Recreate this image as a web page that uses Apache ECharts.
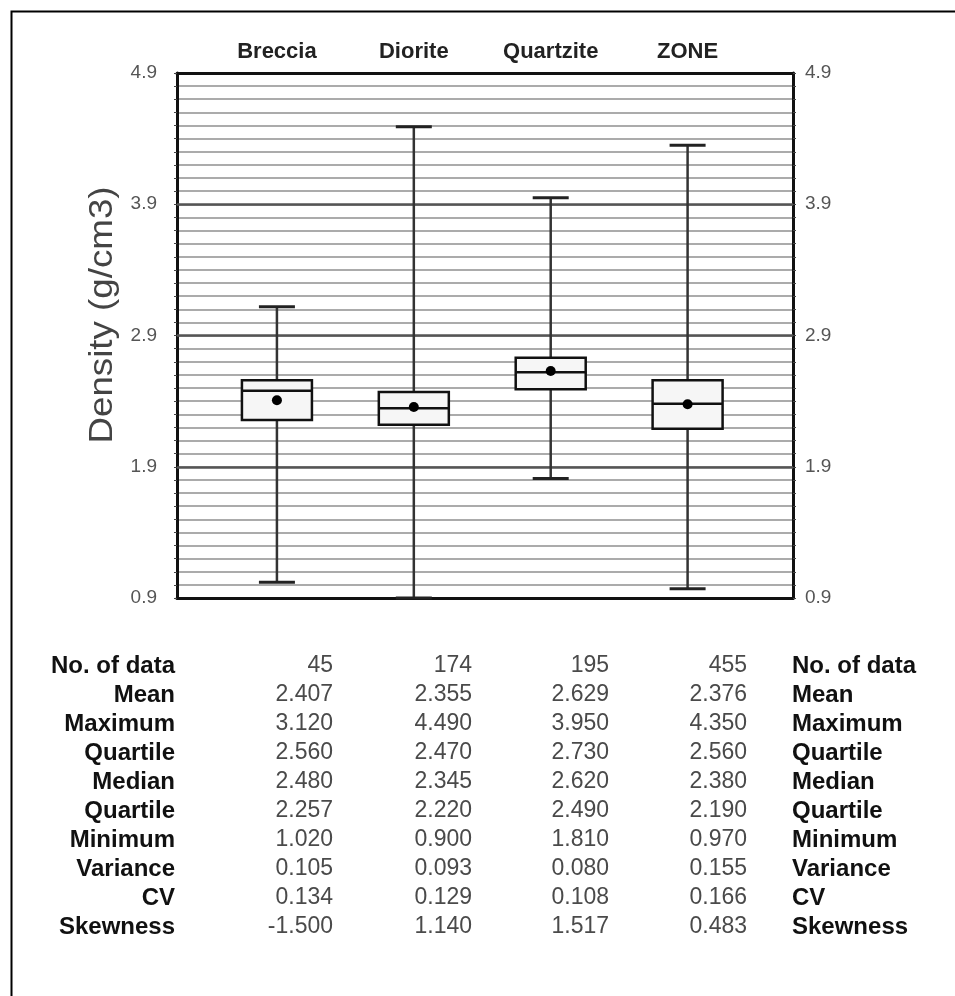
<!DOCTYPE html>
<html>
<head>
<meta charset="utf-8">
<script src="https://cdn.jsdelivr.net/npm/echarts@6/dist/echarts.min.js"></script>
<style>
html,body{margin:0;padding:0;background:#fff;}
#chart{width:955px;height:996px;}
</style>
</head>
<body>
<div id="chart"></div>
<script>
// ---- Data ----
const categories = ['Breccia', 'Diorite', 'Quartzite', 'ZONE'];
const nData    = [45, 174, 195, 455];
const meanV    = [2.407, 2.355, 2.629, 2.376];
const maxV     = [3.120, 4.490, 3.950, 4.350];
const q3V      = [2.560, 2.470, 2.730, 2.560];
const medianV  = [2.480, 2.345, 2.620, 2.380];
const q1V      = [2.257, 2.220, 2.490, 2.190];
const minV     = [1.020, 0.900, 1.810, 0.970];
const varianceV= [0.105, 0.093, 0.080, 0.155];
const cvV      = [0.134, 0.129, 0.108, 0.166];
const skewV    = [-1.500, 1.140, 1.517, 0.483];
const yTickLabels = [0.9, 1.9, 2.9, 3.9, 4.9];
const majorGrid = [1.9, 2.9, 3.9];
const rowLabels = ['No. of data','Mean','Maximum','Quartile','Median','Quartile','Minimum','Variance','CV','Skewness'];

// ---- Build ----
const boxData = categories.map((c, i) => [i + 1, minV[i], q1V[i], medianV[i], q3V[i], maxV[i], meanV[i]]);
const tableRows = [
  nData.map(v => String(v)),
  meanV.map(v => v.toFixed(3)),
  maxV.map(v => v.toFixed(3)),
  q3V.map(v => v.toFixed(3)),
  medianV.map(v => v.toFixed(3)),
  q1V.map(v => v.toFixed(3)),
  minV.map(v => v.toFixed(3)),
  varianceV.map(v => v.toFixed(3)),
  cvV.map(v => v.toFixed(3)),
  skewV.map(v => v.toFixed(3))
];

const chart = echarts.init(document.getElementById('chart'), null, {renderer: 'canvas'});

const graphics = [];
graphics.push({
  type: 'rect', left: 9, top: 9, z: 100,
  shape: {x: 0, y: 0, width: 1000, height: 1000},
  style: {fill: 'none', stroke: '#000', lineWidth: 2}
});
graphics.push({
  type: 'text', x: 103, y: 315, rotation: Math.PI / 2,
  scaleX: 1.08,
  style: {
    text: 'Density (g/cm3)', textAlign: 'center', textVerticalAlign: 'middle',
    font: '34px "Liberation Sans", Arial, sans-serif', fill: '#444'
  }
});
const colRight = [333, 472, 609, 747];
const rowY0 = 666, rowStep = 29;
rowLabels.forEach((lab, r) => {
  const y = rowY0 + r * rowStep;
  graphics.push({type: 'text', x: 175, y: y, style: {text: lab, textAlign: 'right', textVerticalAlign: 'middle', font: 'bold 24px "Liberation Sans", Arial, sans-serif', fill: '#111'}});
  graphics.push({type: 'text', x: 792, y: y, style: {text: lab, textAlign: 'left', textVerticalAlign: 'middle', font: 'bold 24px "Liberation Sans", Arial, sans-serif', fill: '#111'}});
  tableRows[r].forEach((val, c) => {
    graphics.push({type: 'text', x: colRight[c], y: y, style: {text: val, textAlign: 'right', textVerticalAlign: 'middle', font: '23px "Liberation Sans", Arial, sans-serif', fill: '#4a4a4a'}});
  });
});

const yAxisCommon = {
  type: 'value', min: 0.9, max: 4.9, interval: 0.1,
  axisLine: {show: true, lineStyle: {color: '#111', width: 3}},
  axisTick: {show: true, length: 3, lineStyle: {color: '#444', width: 1}},
  axisLabel: {
    color: '#555', fontSize: 19, fontFamily: '"Liberation Sans", Arial, sans-serif',
    formatter: v => yTickLabels.some(t => Math.abs(t - v) < 1e-6) ? v.toFixed(1) : ''
  }
};

const option = {
  animation: false,
  backgroundColor: '#fff',
  grid: {left: 177, right: 162, top: 73, bottom: 398, containLabel: false},
  xAxis: [
    {type: 'value', min: 0.27, max: 4.77, position: 'bottom',
     axisLine: {show: true, onZero: false, lineStyle: {color: '#111', width: 3}},
     axisTick: {show: false}, axisLabel: {show: false}, splitLine: {show: false}},
    {type: 'value', min: 0.27, max: 4.77, position: 'top',
     axisLine: {show: true, onZero: false, lineStyle: {color: '#111', width: 3}},
     axisTick: {show: false}, axisLabel: {show: false}, splitLine: {show: false}}
  ],
  yAxis: [
    Object.assign({}, yAxisCommon, {position: 'left', axisLabel: Object.assign({}, yAxisCommon.axisLabel, {margin: 20}),
      splitLine: {show: true, lineStyle: {color: '#ababab', width: 1.8}}}),
    Object.assign({}, yAxisCommon, {position: 'right', axisLabel: Object.assign({}, yAxisCommon.axisLabel, {margin: 12}),
      splitLine: {show: false}})
  ],
  series: [
    {
      type: 'line', data: [], xAxisIndex: 0, yAxisIndex: 0, z: 1,
      markLine: {
        silent: true, symbol: 'none', label: {show: false}, animation: false,
        lineStyle: {color: '#555', width: 2.5, type: 'solid'},
        data: majorGrid.map(v => ({yAxis: v}))
      }
    },
    {
      type: 'custom', xAxisIndex: 0, yAxisIndex: 0, z: 5, clip: false,
      data: boxData,
      encode: {x: 0, y: [1, 2, 3, 4, 5]},
      renderItem: function (params, api) {
        const x = api.value(0);
        const pMin = api.coord([x, api.value(1)]);
        const pQ1 = api.coord([x, api.value(2)]);
        const pMed = api.coord([x, api.value(3)]);
        const pQ3 = api.coord([x, api.value(4)]);
        const pMax = api.coord([x, api.value(5)]);
        const pMean = api.coord([x, api.value(6)]);
        const pTop = api.coord([x, 4.9]);
        const cx = pMed[0];
        const hb = 35, hc = 18;
        return {
          type: 'group',
          children: [
            {type: 'line', shape: {x1: cx, y1: pMax[1], x2: cx, y2: pMin[1]}, style: {stroke: '#333', lineWidth: 2.5}},
            {type: 'line', shape: {x1: cx - hc, y1: pMax[1], x2: cx + hc, y2: pMax[1]}, style: {stroke: '#222', lineWidth: 3}},
            {type: 'line', shape: {x1: cx - hc, y1: pMin[1], x2: cx + hc, y2: pMin[1]}, style: {stroke: '#222', lineWidth: 3}},
            {type: 'rect', shape: {x: cx - hb, y: pQ3[1], width: 2 * hb, height: pQ1[1] - pQ3[1]}, style: {fill: '#f6f6f6', stroke: '#111', lineWidth: 2.5}},
            {type: 'line', shape: {x1: cx - hb, y1: pMed[1], x2: cx + hb, y2: pMed[1]}, style: {stroke: '#111', lineWidth: 2.5}},
            {type: 'circle', shape: {cx: cx, cy: pMean[1], r: 5}, style: {fill: '#000'}},
            {type: 'text', x: cx, y: pTop[1] - 21, style: {text: categories[params.dataIndex], textAlign: 'center', textVerticalAlign: 'middle', font: 'bold 22px "Liberation Sans", Arial, sans-serif', fill: '#222'}}
          ]
        };
      }
    }
  ],
  graphic: graphics
};
chart.setOption(option);
</script>
</body>
</html>
